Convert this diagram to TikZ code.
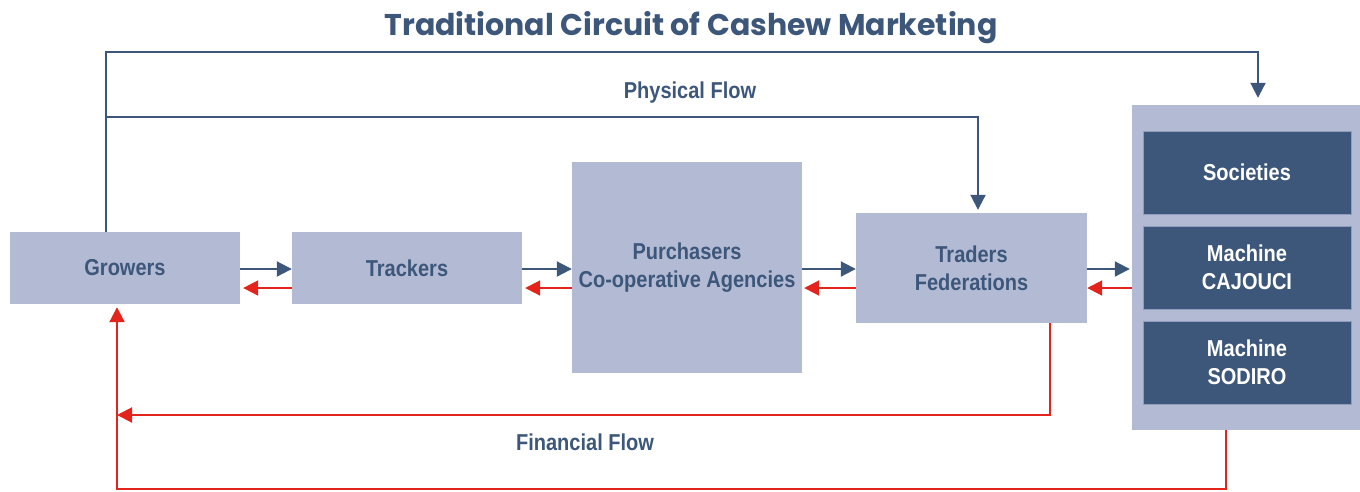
\documentclass[tikz,border=0pt]{standalone}
\usepackage{fontspec}
\usetikzlibrary{arrows.meta}
\setmainfont{Liberation Sans}
\newfontfamily\bodyfont{Liberation Sans}[FakeStretch=0.87]
\newfontfamily\headfont{Poppins}
\definecolor{navy}{RGB}{61,87,123}
\definecolor{boxlight}{RGB}{179,186,212}
\definecolor{flowred}{RGB}{226,36,28}
\begin{document}
\begin{tikzpicture}[x=1pt,y=-1pt,
  lbox/.style={fill=boxlight, draw=none, inner sep=0pt, text=navy, align=center,
    font=\bodyfont\fontsize{23}{28}\selectfont\bfseries},
  dbox/.style={fill=navy, draw=boxlight!70!navy, line width=0.6pt, inner sep=0pt, text=white,
    align=center, minimum width=208, minimum height=83,
    font=\bodyfont\fontsize{23}{28}\selectfont\bfseries},
  flowlabel/.style={text=navy, font=\bodyfont\fontsize{23}{28}\selectfont\bfseries},
  bflow/.style={draw=navy, line width=2pt, -{Triangle[length=15pt,width=15pt]}},
  rflow/.style={draw=flowred, line width=2pt, -{Triangle[length=15pt,width=15pt]}}]
\useasboundingbox (0,0) rectangle (1360,491);

% title
\node[text=navy, font=\headfont\fontsize{30}{34}\selectfont\bfseries] (title) at (691,28)
  {Traditional Circuit of Cashew Marketing};

% chain of actors
\node[lbox, minimum width=230, minimum height=72] (grow) at (125,268) {Growers};
\node[lbox, minimum width=230, minimum height=72] (track) at (407,268) {Trackers};
\node[lbox, minimum width=230, minimum height=211] (purch) at (687,267.5)
  {Purchasers\\Co-operative Agencies};
\node[lbox, minimum width=231, minimum height=110] (trade) at (971.5,268)
  {Traders\\Federations};

% exporters block
\node[fill=boxlight, inner sep=0pt, minimum width=228, minimum height=325] (big) at (1246,267.5) {};
\node[dbox] (soc) at (1247,172.5) {Societies};
\node[dbox] (caj) at (1247,267.5) {Machine\\CAJOUCI};
\node[dbox] (sod) at (1247,362.5) {Machine\\SODIRO};

% rows of the horizontal arrows
\coordinate (rowb) at (0,269);
\coordinate (rowr) at (0,288);

% physical flow between neighbours
\draw[bflow] (grow.east |- rowb) -- (track.west |- rowb);
\draw[bflow] (track.east |- rowb) -- (purch.west |- rowb);
\draw[bflow] (purch.east |- rowb) -- (trade.west |- rowb);
\draw[bflow, shorten >=2pt] (trade.east |- rowb) -- (big.west |- rowb);

% financial flow between neighbours
\draw[rflow, shorten >=3pt] (track.west |- rowr) -- (grow.east |- rowr);
\draw[rflow, shorten >=3pt] (purch.west |- rowr) -- (track.east |- rowr);
\draw[rflow, shorten >=2pt] (trade.west |- rowr) -- (purch.east |- rowr);
\draw[rflow] (big.west |- rowr) -- (trade.east |- rowr);

% physical flow: long routes from growers
\coordinate (gtop) at (106,52);
\coordinate (btop) at (1258,52);
\coordinate (gmid) at (106,117);
\coordinate (tmid) at (978,117);
\draw[bflow, shorten >=7pt] (grow.north -| gtop) -- (gtop) -- (btop) -- (big.north -| btop);
\draw[bflow, shorten >=3pt] (gmid) -- (tmid) -- (trade.north -| tmid);
\node[flowlabel] (phys) at (690,93) {Physical Flow};

% financial flow: long routes back to growers
\coordinate (tlow) at (1050,415);
\coordinate (glow) at (117,415);
\coordinate (bbot) at (1226,489);
\coordinate (gbot) at (117,489);
\draw[rflow] (trade.south -| tlow) -- (tlow) -- (glow);
\draw[rflow, shorten >=3pt] (big.south -| bbot) -- (bbot) -- (gbot) -- (grow.south -| gbot);
\node[flowlabel] (fin) at (585,442) {Financial Flow};
\end{tikzpicture}
\end{document}
